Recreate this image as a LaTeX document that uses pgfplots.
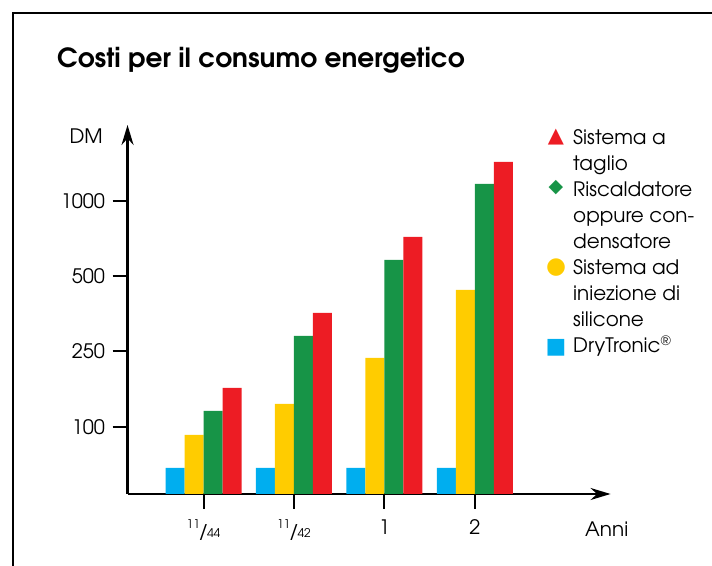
\documentclass[border=0pt]{standalone}
\usepackage{fontspec}
\setmainfont{TeX Gyre Adventor}
\newfontfamily\sym{DejaVu Sans}
\usepackage{pgfplots}
\pgfplotsset{compat=1.18}
\usetikzlibrary{arrows.meta}

\definecolor{dtblue}{HTML}{00AEEF}
\definecolor{dtyellow}{HTML}{FFCC00}
\definecolor{dtgreen}{HTML}{179447}
\definecolor{dtred}{HTML}{ED1C24}

\newcommand{\fr}[2]{\raisebox{0.45em}{\fontsize{12}{12}\selectfont #1}\kern-1.5bp/\kern-1.5bp{\fontsize{12}{12}\selectfont #2}}

\begin{document}
\begin{tikzpicture}[x=1bp,y=1bp]
\useasboundingbox (0,0) rectangle (712,566);
% frame cut by the page edges
\draw[line width=1.5bp] (13,0) -- (13,553) -- (712,553);

\node[anchor=base west, inner sep=0, font=\bfseries\fontsize{26.5}{30}\selectfont]
  at (57,498) {Costi per il consumo energetico};

\begin{axis}[
  at={(141,72)}, anchor=south west,
  scale only axis, width=483bp, height=369bp,
  xmin=0.16, xmax=5.5, ymin=0, ymax=369,
  axis lines=left,
  axis line style={line width=2.2bp, -{Stealth[length=20bp,width=12bp]}},
  tick style={line width=2bp, black},
  tick align=outside, major tick length=15bp,
  xtick={1,2,3,4},
  xticklabels={\fr{11}{44}, \fr{11}{42}, 1, 2},
  ytick={67,143,218,293},
  yticklabels={100,250,500,1000},
  ticklabel style={font=\fontsize{20}{24}\selectfont},
  xticklabel style={yshift=-7bp},
  yticklabel style={xshift=-4bp},
  ybar=0pt, bar width=0.21,
]
% heights are read in the chart's own (non-linear) scale units
\addplot[fill=dtblue, draw=none] coordinates {(1,26) (2,26) (3,26) (4,26)};
\addplot[fill=dtyellow, draw=none] coordinates {(1,59) (2,90) (3,136) (4,204)};
\addplot[fill=dtgreen, draw=none] coordinates {(1,83) (2,158) (3,234) (4,310)};
\addplot[fill=dtred, draw=none] coordinates {(1,106) (2,181) (3,257) (4,332)};
\end{axis}

\node[anchor=base east, inner sep=0, font=\fontsize{20}{24}\selectfont] at (103,422) {DM};
\node[anchor=base west, inner sep=0, font=\fontsize{20}{24}\selectfont] at (585,29) {Anni};

% legend
\foreach \t [count=\i] in {Sistema a, taglio, Riscaldatore, oppure con-, densatore,
    Sistema ad, iniezione di, silicone, DryTronic\textsuperscript{\textregistered}}
  \node[anchor=base west, inner sep=0, font=\fontsize{20}{24}\selectfont]
    at (573,{566-145-26*(\i-1)}) {\t};
\node[text=dtred, font=\sym\fontsize{21}{21}\selectfont, inner sep=0] at (556,429) {▲};
\node[text=dtgreen, font=\sym\fontsize{19}{19}\selectfont, inner sep=0] at (556,378) {◆};
\node[text=dtyellow, font=\sym\fontsize{23}{23}\selectfont, inner sep=0] at (556,298) {●};
\node[text=dtblue, font=\sym\fontsize{22}{22}\selectfont, inner sep=0] at (556,218) {■};
\end{tikzpicture}
\end{document}
